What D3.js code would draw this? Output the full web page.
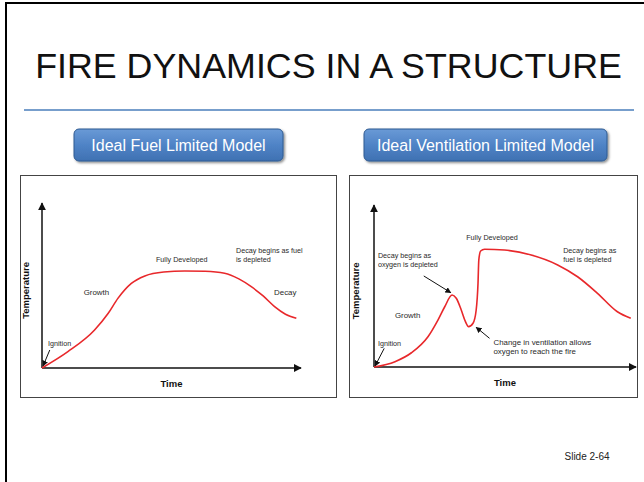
<!DOCTYPE html>
<html>
<head>
<meta charset="utf-8">
<title>Fire Dynamics in a Structure</title>
<style>
  body { margin: 0; background: #fff; }
  svg text { font-family: "Liberation Sans", Arial, sans-serif; }
</style>
</head>
<body>
<div id="slide"></div>

<script src="https://cdn.jsdelivr.net/npm/d3@7"></script>
<script>

// ---- data (time / temperature in % of axis) ----
var titles = ['Ideal Fuel Limited Model', 'Ideal Ventilation Limited Model'];

var fuelTime = [0, 10, 20.3, 25.5, 29.3, 34.5, 39.7, 47, 55.1, 63, 70.5, 76, 80.8, 85.5, 89.8, 94, 98.2];
var fuelTemp = [0, 9.9, 23, 33, 42.2, 51.3, 55.8, 58.2, 58.8, 58.6, 57.4, 54, 49.3, 43.5, 37.2, 32.6, 30.1];

var ventTime = [0, 8, 14.3, 20.6, 24.4, 27, 29.8, 31.4, 33.3, 34.9, 36.1, 37.8, 39, 39.7, 40, 40.7, 42.2, 49.8, 60, 70.1, 77.7, 85.3, 92.9, 98];
var ventTemp = [0, 3.3, 8.8, 18.7, 29, 37.2, 44.4, 42.4, 35.2, 28, 24.9, 27, 35.2, 51.7, 66, 71.6, 72.7, 72.2, 69.1, 63, 55.7, 45.5, 34.1, 30.1];

// annotations: [text lines], anchor time, anchor temperature (baseline of first line)
var fuelNotes = [
  { lines: ['Ignition'], t: 2.3, v: 13.3 },
  { lines: ['Growth'], t: 16.1, v: 44.2, big: true },
  { lines: ['Fully Developed'], t: 44, v: 64.2 },
  { lines: ['Decay begins as fuel', 'is depleted'], t: 74.9, v: 70 },
  { lines: ['Decay'], t: 89.6, v: 44.2, big: true }
];
var fuelPointers = [
  { from: [3.0, 10.9], to: [0.4, 1.2] }
];

var ventNotes = [
  { lines: ['Fully Developed'], t: 35.2, v: 78.4 },
  { lines: ['Decay begins as', 'oxygen is depleted'], t: 1.5, v: 67.3 },
  { lines: ['Growth'], t: 8, v: 30.2, big: true },
  { lines: ['Ignition'], t: 1.5, v: 13 },
  { lines: ['Change in ventilation allows', 'oxygen to reach the fire'], t: 45.6, v: 13.6, big: true },
  { lines: ['Decay begins as', 'fuel is depleted'], t: 72.2, v: 70.4 }
];
var ventPointers = [
  { from: [19, 56.2], to: [29.3, 45.9] },
  { from: [3.9, 11.5], to: [0.4, 0.6] },
  { from: [44.1, 17.7], to: [39, 24.5] }
];

var W = 644, H = 482;

var svg = d3.select('#slide').append('svg')
  .attr('width', W)
  .attr('height', H);

var defs = svg.append('defs');

var grad = defs.append('linearGradient')
  .attr('id', 'btnGrad')
  .attr('x1', 0).attr('y1', 0).attr('x2', 0).attr('y2', 1);
grad.append('stop').attr('offset', '0%').attr('stop-color', '#6a9ad6');
grad.append('stop').attr('offset', '50%').attr('stop-color', '#4f83c6');
grad.append('stop').attr('offset', '100%').attr('stop-color', '#3f71b2');

var shadow = defs.append('filter').attr('id', 'btnShadow')
  .attr('x', '-10%').attr('y', '-20%').attr('width', '130%').attr('height', '160%');
shadow.append('feDropShadow')
  .attr('dx', 1.5).attr('dy', 1.5).attr('stdDeviation', 1)
  .attr('flood-color', '#000').attr('flood-opacity', 0.45);

function arrowMarker(id, size) {
  defs.append('marker')
    .attr('id', id)
    .attr('viewBox', '0 0 10 10')
    .attr('refX', 9).attr('refY', 5)
    .attr('markerUnits', 'userSpaceOnUse')
    .attr('markerWidth', size).attr('markerHeight', size)
    .attr('orient', 'auto')
    .append('path')
      .attr('d', 'M0,0 L10,5 L0,10 z')
      .attr('fill', '#111');
}
arrowMarker('axisHead', 8);
arrowMarker('noteHead', 6);

// slide background + frame (left and top edges only)
svg.append('rect').attr('width', W).attr('height', H).attr('fill', '#fff');
svg.append('line')
  .attr('x1', 6).attr('y1', 2).attr('x2', 6).attr('y2', H)
  .attr('stroke', '#000').attr('stroke-width', 2);
svg.append('line')
  .attr('x1', 5).attr('y1', 3).attr('x2', W).attr('y2', 3)
  .attr('stroke', '#000').attr('stroke-width', 2);

svg.append('text')
  .attr('x', 328.5).attr('y', 77.5)
  .attr('text-anchor', 'middle')
  .attr('font-size', 35.8)
  .attr('fill', '#111')
  .text('FIRE DYNAMICS IN A STRUCTURE');

svg.append('line')
  .attr('x1', 24).attr('y1', 110).attr('x2', 634).attr('y2', 110)
  .attr('stroke', '#4a7ebb').attr('stroke-width', 1.5);

svg.append('text')
  .attr('x', 587).attr('y', 460)
  .attr('text-anchor', 'middle')
  .attr('font-size', 10)
  .attr('fill', '#222')
  .text('Slide 2-64');

// one titled button above each chart box
function drawButton(label, x0, x1) {
  var g = svg.append('g');
  g.append('rect')
    .attr('x', x0).attr('y', 129)
    .attr('width', x1 - x0).attr('height', 32)
    .attr('rx', 5).attr('ry', 5)
    .attr('fill', 'url(#btnGrad)')
    .attr('stroke', '#2f5b92').attr('stroke-width', 1)
    .attr('filter', 'url(#btnShadow)');
  g.append('text')
    .attr('x', (x0 + x1) / 2).attr('y', 151)
    .attr('text-anchor', 'middle')
    .attr('font-size', 16)
    .attr('fill', '#fff')
    .text(label);
}

drawButton(titles[0], 74, 283);
drawButton(titles[1], 364, 607);

function drawModel(cfg) {
  var g = svg.append('g');

  g.append('rect')
    .attr('x', cfg.box[0]).attr('y', cfg.box[1])
    .attr('width', cfg.box[2] - cfg.box[0]).attr('height', cfg.box[3] - cfg.box[1])
    .attr('fill', '#fff')
    .attr('stroke', '#444').attr('stroke-width', 1);

  var x = d3.scaleLinear().domain([0, 100]).range(cfg.xRange);
  var y = d3.scaleLinear().domain([0, 100]).range(cfg.yRange);

  // axes with arrow heads
  g.append('line')
    .attr('x1', x(0)).attr('y1', y(0)).attr('x2', x(0)).attr('y2', y(100))
    .attr('stroke', '#111').attr('stroke-width', 1.5)
    .attr('marker-end', 'url(#axisHead)');
  g.append('line')
    .attr('x1', x(0)).attr('y1', y(0)).attr('x2', x(100)).attr('y2', y(0))
    .attr('stroke', '#111').attr('stroke-width', 1.5)
    .attr('marker-end', 'url(#axisHead)');

  g.append('text')
    .attr('x', (x(0) + x(100)) / 2).attr('y', y(0) + 19)
    .attr('text-anchor', 'middle')
    .attr('font-size', 9.5).attr('font-weight', 'bold')
    .attr('fill', '#111')
    .text('Time');

  g.append('text')
    .attr('transform', 'translate(' + (x(0) - cfg.yLabelGap) + ',' + y(47) + ') rotate(-90)')
    .attr('text-anchor', 'middle')
    .attr('font-size', 9.5).attr('font-weight', 'bold')
    .attr('fill', '#111')
    .text('Temperature');

  var pts = cfg.time.map(function(t, i) { return [t, cfg.temp[i]]; });
  var line = d3.line()
    .x(function(d) { return x(d[0]); })
    .y(function(d) { return y(d[1]); })
    .curve(d3.curveMonotoneX);

  g.append('path')
    .datum(pts)
    .attr('d', line)
    .attr('fill', 'none')
    .attr('stroke', '#e8282b')
    .attr('stroke-width', 1.6);

  cfg.pointers.forEach(function(p) {
    g.append('line')
      .attr('x1', x(p.from[0])).attr('y1', y(p.from[1]))
      .attr('x2', x(p.to[0])).attr('y2', y(p.to[1]))
      .attr('stroke', '#111').attr('stroke-width', 1)
      .attr('marker-end', 'url(#noteHead)');
  });

  cfg.notes.forEach(function(n) {
    var t = g.append('text')
      .attr('x', x(n.t)).attr('y', y(n.v))
      .attr('font-size', n.big ? 7.9 : 7.2)
      .attr('fill', '#2a2a2a');
    n.lines.forEach(function(s, i) {
      t.append('tspan')
        .attr('x', x(n.t))
        .attr('dy', i === 0 ? 0 : (n.big ? 9 : 9.3))
        .text(s);
    });
  });
}

drawModel({
  box: [20.5, 175.5, 336.5, 397.5],
  xRange: [42, 301],
  yRange: [368, 203],
  yLabelGap: 13,
  time: fuelTime, temp: fuelTemp,
  notes: fuelNotes, pointers: fuelPointers
});

drawModel({
  box: [349.5, 175.5, 637.5, 397.5],
  xRange: [374, 636],
  yRange: [367, 205],
  yLabelGap: 15,
  time: ventTime, temp: ventTemp,
  notes: ventNotes, pointers: ventPointers
});

</script>
</body>
</html>
